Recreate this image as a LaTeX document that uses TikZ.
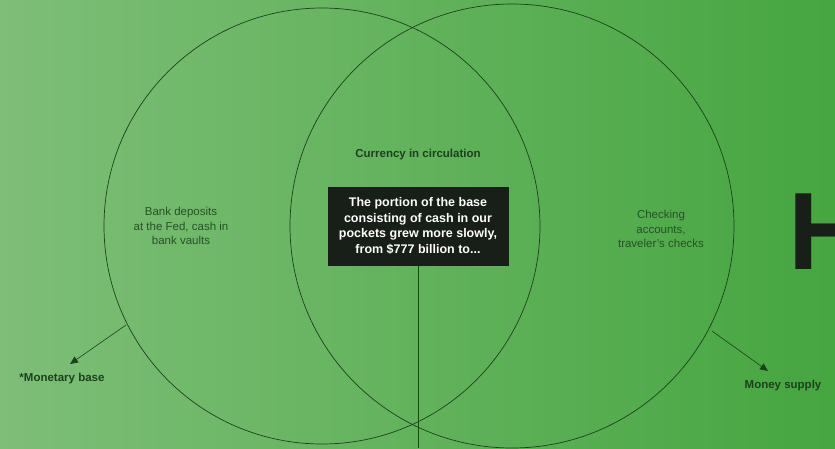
\documentclass[tikz,border=0pt]{standalone}
\usepackage{fontspec}
\setmainfont{Liberation Sans}
\definecolor{bggreenl}{RGB}{126,190,120}
\definecolor{bggreenr}{RGB}{70,166,64}
\definecolor{inkgreen}{RGB}{28,66,28}
\definecolor{softgreen}{RGB}{38,82,38}
\definecolor{boxblack}{RGB}{24,30,24}
\usetikzlibrary{arrows.meta,positioning,calc}

\begin{document}
\begin{tikzpicture}[x=1pt, y=-1pt, every node/.style={font=\fontsize{11.5}{14.5}\selectfont},
  ring/.style={draw=inkgreen, line width=0.7pt},
  note/.style={align=center, text=softgreen, inner sep=0pt},
  tag/.style={font=\fontsize{11.5}{14.5}\selectfont\bfseries, text=inkgreen, inner sep=0pt},
  pointer/.style={draw=inkgreen, line width=0.6pt, -{Triangle[length=8pt,width=7pt]}}]
% Background
\useasboundingbox (0,0) rectangle (835,448);
\clip (0,0) rectangle (835,448);
\shade[left color=bggreenl, right color=bggreenr] (0,0) rectangle (835,448);
% Circles
\coordinate (base) at (322,226);
\coordinate (supply) at (512,226);
\draw[ring] (base) circle[radius=218pt];
\draw[ring] (supply) circle[radius=222pt];
% Middle
\node[tag] (cur) at (418,155) {Currency in circulation};
\node[fill=boxblack, text=white, align=center, minimum width=181pt, minimum height=79pt,
  font=\fontsize{12.5}{15.5}\selectfont\bfseries] (part) at (418,226)
  {The portion of the base\\consisting of cash in our\\pockets grew more slowly,\\from \$777 billion to...};
\coordinate (foot) at (part.south |- 0,448);
\draw[ring] (part.south) -- (foot);
% Sides
\node[note] (fed) at (181,226) {Bank deposits\\at the Fed, cash in\\bank vaults};
\node[note] (chk) at (661,229) {Checking\\accounts,\\traveler's checks};
% Labels
\node[tag] (mb) at (62,379) {*Monetary base};
\node[tag] (ms) at (783,386) {Money supply};
\coordinate (mbfrom) at (126,325);
\coordinate (mbto) at (70,364);
\coordinate (msfrom) at (712,331);
\coordinate (msto) at (768,371);
\draw[pointer] (mbfrom) -- (mbto);
\draw[pointer] (msfrom) -- (msto);
% Next letter
\node[inner sep=0pt, anchor=base west, text=boxblack,
  font=\fontsize{110}{110}\selectfont\bfseries] (big) at (788,269) {H};
\end{tikzpicture}
\end{document}
